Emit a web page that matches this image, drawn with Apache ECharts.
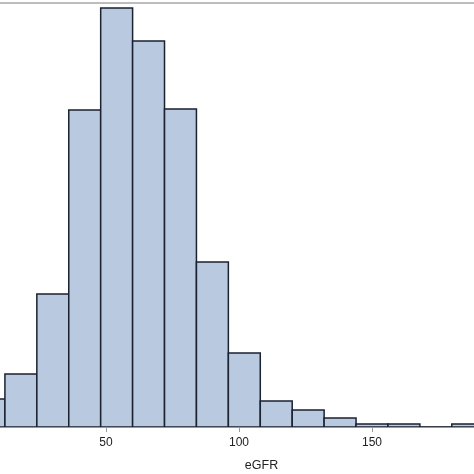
<!DOCTYPE html>
<html>
<head>
<meta charset="utf-8">
<script src="https://cdn.jsdelivr.net/npm/echarts@6/dist/echarts.min.js"></script>
<style>
html,body{margin:0;padding:0;background:#fff;overflow:hidden;width:474px;height:474px;}
#chart{position:absolute;left:-27px;top:0;width:532px;height:474px;}
</style>
</head>
<body>
<div id="chart"></div>
<script>
// Histogram of eGFR (bin width 12), values in percent
var binStarts = [0, 12, 24, 36, 48, 60, 72, 84, 96, 108, 120, 132, 144, 156, 168, 180];
var binWidth = 12;
var percents = [1.43, 2.71, 6.81, 16.22, 21.44, 19.75, 16.27, 8.44, 3.79, 1.33, 0.87, 0.46, 0.15, 0.15, 0, 0.15];
var xTicks = [0, 50, 100, 150, 200];

var data = binStarts.map(function (s, i) { return [s, s + binWidth, percents[i]]; });

var chart = echarts.init(document.getElementById('chart'), null, {renderer: 'canvas'});
chart.setOption({
  animation: false,
  grid: {
    left: 0, right: 0, top: 3, bottom: 47,
    outerBoundsMode: 'none', containLabel: false,
    show: true, borderColor: '#a8a8a8', borderWidth: 1.5, backgroundColor: 'transparent'
  },
  xAxis: {
    type: 'value', min: xTicks[0], max: xTicks[xTicks.length - 1], interval: 50,
    name: 'eGFR', nameLocation: 'middle', nameGap: 32,
    nameTextStyle: {fontFamily: 'Liberation Sans, Arial, sans-serif', fontSize: 12.5, color: '#222', padding: [0, 0, 0, 45]},
    axisLine: {show: true, lineStyle: {color: '#8c8c8c', width: 1.5}},
    axisTick: {show: true, length: 5, lineStyle: {color: '#9a9a9a'}},
    axisLabel: {margin: 10, fontFamily: 'Liberation Sans, Arial, sans-serif', fontSize: 12, color: '#222'},
    splitLine: {show: false}
  },
  yAxis: {
    type: 'value', min: 0, max: 21.7, show: false, splitLine: {show: false}
  },
  series: [{
    type: 'custom',
    clip: true,
    data: data,
    encode: {x: [0, 1], y: 2},
    renderItem: function (params, api) {
      var p0 = api.coord([api.value(0), 0]);
      var p1 = api.coord([api.value(1), api.value(2)]);
      return {
        type: 'rect',
        shape: {x: p0[0], y: p1[1], width: p1[0] - p0[0], height: p0[1] - p1[1]},
        style: {fill: '#b9c9df', stroke: '#1a2131', lineWidth: 1.5}
      };
    }
  }]
});
</script>
</body>
</html>
